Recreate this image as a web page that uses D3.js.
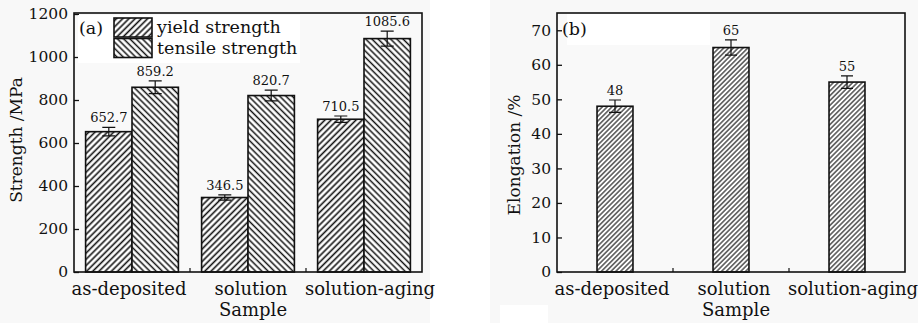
<!DOCTYPE html>
<html>
<head>
<meta charset="utf-8">
<script src="https://cdn.jsdelivr.net/npm/d3@7"></script>
<style>
  body { margin: 0; background: #f8f8f8; }
  svg { display: block; }
  svg text { font-family: "DejaVu Serif", serif; }
</style>
</head>
<body>
<svg id="chart" width="918" height="323" font-family="DejaVu Serif, serif"></svg>
<script>
// data
const samples = ["as-deposited", "solution", "solution-aging"];
const yieldStrength = [652.7, 346.5, 710.5];
const yieldErr = [20, 12, 15];
const tensileStrength = [859.2, 820.7, 1085.6];
const tensileErr = [30, 25, 35];
const elongation = [48, 65, 55];
const elongationErr = [1.8, 2.2, 1.8];
const strengthTicks = [0, 200, 400, 600, 800, 1000, 1200];
const elongationTicks = [0, 10, 20, 30, 40, 50, 60, 70];
const series = ["yield strength", "tensile strength"];

const serif = "DejaVu Serif, serif";
const svg = d3.select("#chart");
const defs = svg.append("defs");

function hatch(id, angle, gap, width) {
  defs.append("pattern")
      .attr("id", id)
      .attr("patternUnits", "userSpaceOnUse")
      .attr("width", gap).attr("height", 10)
      .attr("patternTransform", `rotate(${angle})`)
    .call(p => p.append("rect").attr("width", gap).attr("height", 10).attr("fill", "#fff"))
    .append("line")
      .attr("x1", gap / 2).attr("x2", gap / 2)
      .attr("y1", 0).attr("y2", 10)
      .attr("stroke", "#111").attr("stroke-width", width);
}
hatch("hYield", 45, 4.4, 1.6);
hatch("hTensile", -45, 4.4, 1.5);
hatch("hElong", 45, 3.4, 1.1);

// white strip between the panels and erased patches
svg.append("rect").attr("x", 430).attr("y", 0).attr("width", 60).attr("height", 323).attr("fill", "#fff");
svg.append("rect").attr("x", 500).attr("y", 305).attr("width", 48).attr("height", 18).attr("fill", "#fff");

function frame(x0, x1, y0, y1) {
  svg.append("rect")
      .attr("x", x0).attr("y", y0)
      .attr("width", x1 - x0).attr("height", y1 - y0)
      .attr("fill", "#f9f9f9");
}

function axes(x, y, ticks, x0, x1, y0, y1, yLabel, yLabelPos) {
  const gy = svg.append("g")
      .attr("transform", `translate(${x0},0)`)
      .call(d3.axisLeft(y).tickValues(ticks).tickFormat(d3.format("d"))
        .tickSizeInner(-5).tickSizeOuter(0).tickPadding(6));
  gy.attr("font-family", serif).attr("font-size", 15.5);
  gy.select(".domain").remove();
  gy.selectAll("text").attr("fill", "#111");
  gy.selectAll("line").attr("stroke", "#111").attr("stroke-width", 1.3);

  // minor ticks between the groups on the bottom axis
  const step = x.step();
  svg.append("g").selectAll("line")
    .data(samples.slice(1))
    .join("line")
      .attr("x1", d => x(d) - step * x.paddingInner() / 2)
      .attr("x2", d => x(d) - step * x.paddingInner() / 2)
      .attr("y1", y1).attr("y2", y1 - 4)
      .attr("stroke", "#111").attr("stroke-width", 1.2);

  svg.append("g")
      .attr("font-family", serif)
      .attr("font-size", 18)
      .attr("text-anchor", "middle")
      .attr("fill", "#111")
    .selectAll("text")
    .data(samples)
    .join("text")
      .attr("x", (d, i) => x(d) + x.bandwidth() / 2 + [-3, 3, 6][i])
      .attr("y", 295)
      .text(d => d);

  svg.append("text")
      .attr("x", (x0 + x1) / 2 + 5).attr("y", 316)
      .attr("font-family", serif)
      .attr("font-size", 18).attr("text-anchor", "middle").attr("fill", "#111")
      .text("Sample");

  svg.append("text")
      .attr("transform", `translate(${yLabelPos[0]},${yLabelPos[1]}) rotate(-90)`)
      .attr("font-family", serif)
      .attr("font-size", 17).attr("text-anchor", "middle").attr("fill", "#111")
      .text(yLabel);
}

function border(x0, x1, y0, y1) {
  svg.append("rect")
      .attr("x", x0).attr("y", y0)
      .attr("width", x1 - x0).attr("height", y1 - y0)
      .attr("fill", "none").attr("stroke", "#111").attr("stroke-width", 1.6);
}

function errorBars(g, data, cx, y, capHalf) {
  g.selectAll("path.err")
    .data(data)
    .join("path")
      .attr("class", "err")
      .attr("d", d => {
        const c = cx(d), t = y(d.v + d.e), b = y(d.v - d.e);
        return `M${c - capHalf},${t}H${c + capHalf}M${c},${t}V${b}M${c - capHalf},${b}H${c + capHalf}`;
      })
      .attr("fill", "none").attr("stroke", "#111").attr("stroke-width", 1.2);
}

// ---------- (a) strength ----------
const ax0 = 74, ax1 = 422, ay0 = 13, ay1 = 272;
const xA = d3.scaleBand(samples, [ax0, ax1]).paddingInner(0.2).paddingOuter(0.1);
const xSub = d3.scaleBand(series, [0, xA.bandwidth()]);
const yA = d3.scaleLinear([0, 1200], [ay1, 14]);

frame(ax0, ax1, ay0, ay1);

const strengthData = samples.flatMap((s, i) => [
  { s, k: series[0], v: yieldStrength[i], e: yieldErr[i], fill: "url(#hYield)" },
  { s, k: series[1], v: tensileStrength[i], e: tensileErr[i], fill: "url(#hTensile)" }
]);

const gA = svg.append("g");
gA.selectAll("rect")
  .data(strengthData)
  .join("rect")
    .attr("x", d => xA(d.s) + xSub(d.k))
    .attr("y", d => yA(d.v))
    .attr("width", xSub.bandwidth())
    .attr("height", d => yA(0) - yA(d.v))
    .attr("fill", d => d.fill)
    .attr("stroke", "#111").attr("stroke-width", 1.6);

const cxA = d => xA(d.s) + xSub(d.k) + xSub.bandwidth() / 2;
errorBars(gA, strengthData, cxA, yA, 6.5);

gA.selectAll("text")
  .data(strengthData)
  .join("text")
    .attr("x", cxA)
    .attr("y", d => yA(d.v + d.e) - 5)
    .attr("font-family", serif)
    .attr("text-anchor", "middle").attr("font-size", 13).attr("fill", "#111")
    .text(d => d.v.toFixed(1));

axes(xA, yA, strengthTicks, ax0, ax1, ay0, ay1, "Strength /MPa", [22, 140]);

// legend
svg.append("rect").attr("x", 78).attr("y", 15).attr("width", 222).attr("height", 48).attr("fill", "#fff");
svg.append("text").attr("x", 79).attr("y", 34).attr("font-family", serif)
    .attr("font-size", 17.5).attr("fill", "#111").text("(a)");
const legend = svg.append("g").selectAll("g")
  .data(series)
  .join("g")
    .attr("transform", (d, i) => `translate(114,${18 + i * 20.5})`);
legend.append("rect")
    .attr("width", 38).attr("height", 19)
    .attr("fill", (d, i) => i ? "url(#hTensile)" : "url(#hYield)")
    .attr("stroke", "#111").attr("stroke-width", 1.6);
legend.append("text")
    .attr("x", 43).attr("y", 15)
    .attr("font-family", serif)
    .attr("font-size", 17.5).attr("fill", "#111")
    .text(d => d);

border(ax0, ax1, ay0, ay1);

// ---------- (b) elongation ----------
const bx0 = 557, bx1 = 905, by0 = 13, by1 = 272;
const xB = d3.scaleBand(samples, [bx0, bx1]).paddingInner(0.69).paddingOuter(0.345);
const yB = d3.scaleLinear([0, 75], [by1, by0]);

frame(bx0, bx1, by0, by1);
svg.append("rect").attr("x", 567).attr("y", 14).attr("width", 143).attr("height", 31).attr("fill", "#fff");

const elongData = samples.map((s, i) => ({ s, v: elongation[i], e: elongationErr[i] }));
const gB = svg.append("g");
gB.selectAll("rect")
  .data(elongData)
  .join("rect")
    .attr("x", d => xB(d.s))
    .attr("y", d => yB(d.v))
    .attr("width", xB.bandwidth())
    .attr("height", d => yB(0) - yB(d.v))
    .attr("fill", "url(#hElong)")
    .attr("stroke", "#111").attr("stroke-width", 1.6);

const cxB = d => xB(d.s) + xB.bandwidth() / 2;
errorBars(gB, elongData, cxB, yB, 6);

gB.selectAll("text")
  .data(elongData)
  .join("text")
    .attr("x", cxB)
    .attr("y", d => yB(d.v + d.e) - 5)
    .attr("font-family", serif)
    .attr("text-anchor", "middle").attr("font-size", 13).attr("fill", "#111")
    .text(d => d.v);

svg.append("text").attr("x", 562).attr("y", 35).attr("font-family", serif)
    .attr("font-size", 17.5).attr("fill", "#111").text("(b)");

axes(xB, yB, elongationTicks, bx0, bx1, by0, by1, "Elongation /%", [520, 155]);
border(bx0, bx1, by0, by1);
</script>
</body>
</html>
